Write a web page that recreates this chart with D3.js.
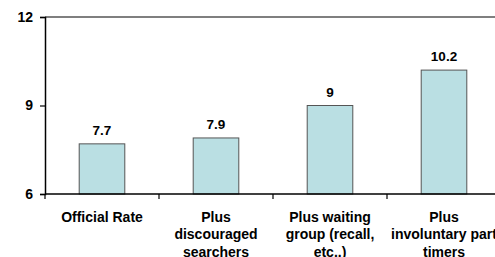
<!DOCTYPE html>
<html><head><meta charset="utf-8">
<script src="https://cdn.jsdelivr.net/npm/d3@7"></script>
<style>body{margin:0;background:#fff}svg{display:block}text{font-family:"Liberation Sans",Arial,sans-serif;font-weight:bold;fill:#000}</style>
</head><body>
<svg id="c" width="495" height="257"></svg>
<script>
const categories = ["Official Rate", "Plus discouraged searchers", "Plus waiting group (recall, etc..)", "Plus involuntary part timers"];
const categoryLines = [["Official Rate"], ["Plus", "discouraged", "searchers"], ["Plus waiting", "group (recall,", "etc..)"], ["Plus", "involuntary part", "timers"]];
const values = [7.7, 7.9, 9, 10.2];
const valueLabels = ["7.7", "7.9", "9", "10.2"];
const yTicks = [6, 9, 12];

const svg = d3.select("#c");
const L = 45, R = 501, T = 17, B = 194;
const x = d3.scaleBand().domain(categories).range([L, R]).paddingInner(0.6).paddingOuter(0.3);
const y = d3.scaleLinear().domain([6, 12]).range([B, T]);

// top gridline
svg.append("line").attr("x1", L).attr("x2", 495).attr("y1", y(12)).attr("y2", y(12))
  .attr("stroke", "#555").attr("stroke-width", 1.5);

// bars
svg.selectAll("rect.bar").data(values).join("rect").attr("class", "bar")
  .attr("x", (d, i) => x(categories[i])).attr("width", x.bandwidth())
  .attr("y", d => y(d)).attr("height", d => B - y(d))
  .attr("fill", "#BADFE3").attr("stroke", "#555").attr("stroke-width", 1);

// value labels
svg.selectAll("text.val").data(values).join("text").attr("class", "val")
  .attr("x", (d, i) => x(categories[i]) + x.bandwidth() / 2).attr("y", d => y(d) - 9)
  .attr("text-anchor", "middle").attr("font-size", "13.5px").text((d, i) => valueLabels[i]);

// y axis
const ya = svg.append("g").attr("transform", `translate(${L},0)`)
  .call(d3.axisLeft(y).tickValues(yTicks).tickSize(5).tickPadding(7).tickFormat(d3.format("d")));
ya.select(".domain").attr("stroke", "#000").attr("stroke-width", 1.5);
ya.selectAll(".tick line").attr("stroke", "#000").attr("stroke-width", 1.2);
ya.selectAll(".tick text").attr("font-size", "14px").attr("font-family", "Liberation Sans, Arial, sans-serif").attr("font-weight", "bold");

// x axis
const xo = d3.scaleBand().domain(categories).range([L, R]);
svg.append("line").attr("x1", L).attr("x2", R).attr("y1", B).attr("y2", B).attr("stroke", "#000").attr("stroke-width", 1.5);
svg.selectAll("line.xt").data(categories).join("line").attr("class", "xt")
  .attr("x1", d => xo(d)).attr("x2", d => xo(d)).attr("y1", B).attr("y2", B + 5)
  .attr("stroke", "#000").attr("stroke-width", 1.2);

// category labels
categoryLines.forEach((lines, i) => {
  const cx = xo(categories[i]) + xo.bandwidth() / 2;
  const t = svg.append("text").attr("text-anchor", "middle").attr("font-size", "14px");
  lines.forEach((ln, j) => t.append("tspan").attr("x", cx).attr("y", 221.5 + j * 17.5).text(ln));
});
</script>
</body></html>
